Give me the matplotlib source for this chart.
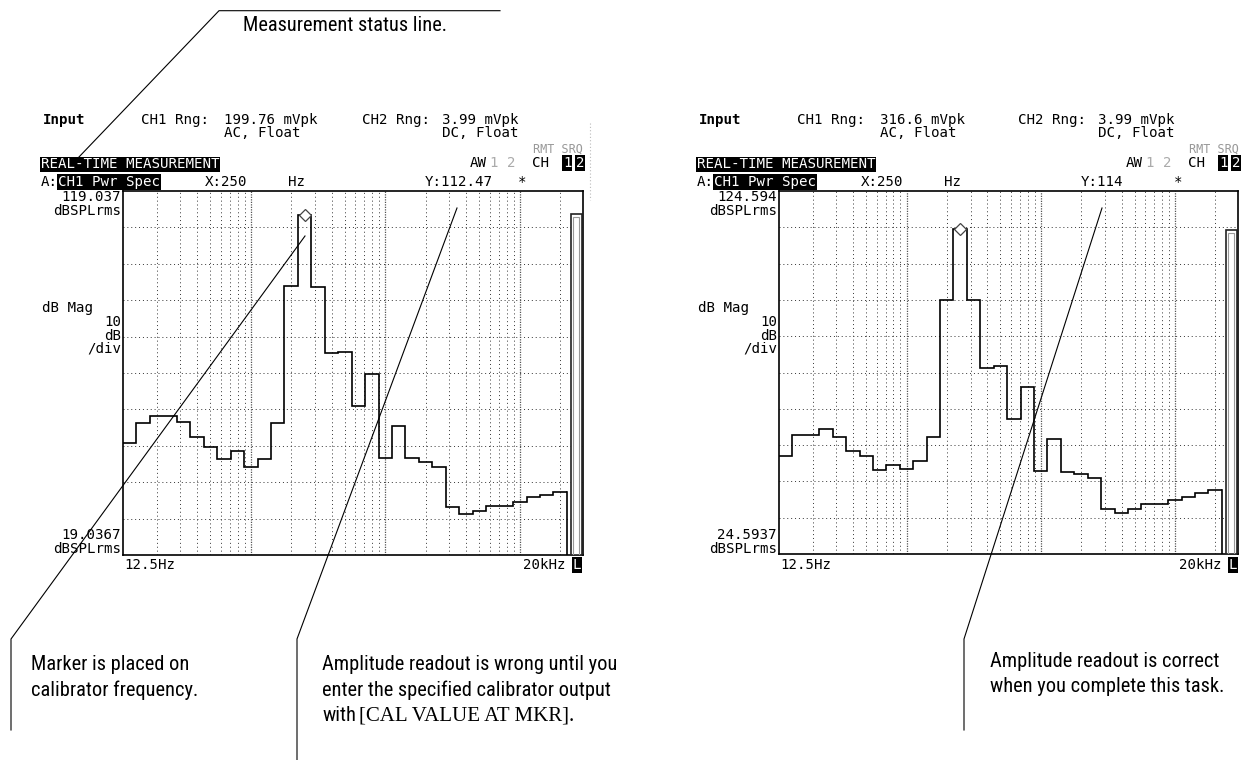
import matplotlib
matplotlib.use('Agg')
import matplotlib.pyplot as plt
import numpy as np
from matplotlib import font_manager

W, H = 1244, 760

# 1/3-octave bands shown on the analyzer, 12.5 Hz .. 20 kHz
bands = ['12.5', '16', '20', '25', '31.5', '40', '50', '63', '80', '100',
         '125', '160', '200', '250', '315', '400', '500', '630', '800', '1k',
         '1.25k', '1.6k', '2k', '2.5k', '3.15k', '4k', '5k', '6.3k', '8k',
         '10k', '12.5k', '16k', '20k']

# band levels (dBSPLrms)
spec_before = [49.8, 55.3, 57.3, 57.3, 55.5, 51.4, 48.7, 45.4, 47.6, 43.3,
               45.4, 55.3, 92.9, 112.47, 92.7, 74.5, 74.7, 59.9, 68.7, 45.8,
               54.5, 45.8, 44.7, 43.3, 32.2, 30.3, 31.0, 32.5, 32.5, 33.7,
               35.1, 35.5, 36.3]
spec_after = [51.6, 57.3, 57.3, 59.1, 56.7, 53.0, 51.6, 47.7, 49.0, 47.9,
              50.3, 56.9, 94.5, 114.0, 94.5, 75.9, 76.3, 61.8, 70.5, 47.5,
              56.3, 47.3, 46.6, 45.4, 36.9, 36.0, 36.9, 38.5, 38.5, 39.5,
              40.4, 41.3, 42.2]
overall = [112.6, 113.9]          # the "L" bar at the right edge
y_top = [119.037, 124.594]
y_bot = [19.0367, 24.5937]
ch1_rng = ['199.76 mVpk', '316.6 mVpk']
y_read = ['Y:112.47', 'Y:114']
marker_band = 13                  # 250 Hz

grid_freqs = [k * 10 ** n for n in (1, 2, 3, 4) for k in range(1, 10)
              if 20 <= k * 10 ** n <= 20000]

# fonts
avail = {f.name for f in font_manager.fontManager.ttflist}
narrow = None
for name in ['Liberation Sans Narrow', 'Roboto Condensed', 'Open Sans Condensed',
             'Noto Sans Condensed', 'DejaVu Sans Condensed']:
    if name in avail:
        narrow = dict(family=name)
        break
if narrow is None:
    for f in font_manager.fontManager.ttflist:
        if f.stretch in ('condensed', 'semi-condensed') and f.style == 'normal':
            narrow = dict(family=f.name, stretch=f.stretch)
            break
NSIZE = 14.7
if narrow is None:
    narrow = dict(family='Roboto')
    NSIZE = 12
MONO = dict(family='DejaVu Sans Mono', fontsize=10.2)

fig = plt.figure(figsize=(W / 100, H / 100), dpi=100)


def px_axes(x0, y0, x1, y1):
    return fig.add_axes([x0 / W, 1 - y1 / H, (x1 - x0) / W, (y1 - y0) / H])


def fx(f):
    # frequency -> band-index coordinate (band i spans i..i+1)
    return 10 * np.log10(f) - 10.5


boxes = [(123, 191, 583, 555), (779, 191, 1238, 554)]
spectra = [spec_before, spec_after]

for i, box in enumerate(boxes):
    ax = px_axes(*box)
    lo, hi = y_bot[i], y_top[i]
    ax.set_xlim(0, 34.2)
    ax.set_ylim(lo, hi)
    ax.set_xticks([])
    ax.set_yticks([])
    for s in ax.spines.values():
        s.set_linewidth(1.2)
    # graticule
    for yv in np.arange(lo + 10, hi - 1, 10):
        ax.axhline(yv, color='#333', lw=0.7, ls=(0, (1, 3)), zorder=1)
    for f in grid_freqs:
        if f in (100, 1000, 10000):
            ax.axvline(fx(f), color='#555', lw=0.9, ls=(0, (1, 1)), zorder=1)
        else:
            ax.axvline(fx(f), color='#333', lw=0.7, ls=(0, (1, 3)), zorder=1)
    vals = spectra[i]
    edges = np.arange(len(bands) + 1)
    ax.stairs(vals, edges, baseline=None, color='black', lw=1.2, zorder=3)
    ax.plot([edges[-1], edges[-1]], [vals[-1], lo], color='black', lw=1.2, zorder=3)
    # marker
    ax.plot(marker_band + 0.5, vals[marker_band], marker='D', ms=6, mfc='white',
            mec='#444', mew=0.9, zorder=4, clip_on=False)
    # overall level bar
    ax.bar(33.7, overall[i] - lo, bottom=lo, width=0.8, facecolor='white',
           edgecolor='#222', lw=1.2, zorder=3)
    ax.bar(33.7, overall[i] - lo - 0.8, bottom=lo, width=0.45, fill=False,
           edgecolor='#999', lw=0.8, zorder=3)

# overlay in pixel coordinates for screen text and callouts
ov = fig.add_axes([0, 0, 1, 1], zorder=5)
ov.set_xlim(0, W)
ov.set_ylim(H, 0)
ov.axis('off')
ov.patch.set_alpha(0)

inv = dict(facecolor='black', edgecolor='none', pad=0.6)
for i, dx in enumerate([0, 656]):
    t = lambda x, y, s, **kw: ov.text(x + dx, y, s, va='center', **{**MONO, **kw})
    t(43, 120, 'Input', fontweight='bold')
    t(141, 120, 'CH1 Rng:')
    t(224, 120, ch1_rng[i])
    t(224, 133, 'AC, Float')
    t(362, 120, 'CH2 Rng:')
    t(442, 120, '3.99 mVpk')
    t(442, 133, 'DC, Float')
    t(583, 149, 'RMT SRQ', ha='right', color='#999', fontsize=8.5)
    t(470, 163, 'AW')
    t(490, 163, '1 2', color='#aaa')
    t(532, 163, 'CH')
    t(563, 163, '1', color='white', bbox=inv)
    t(576, 163, '2', color='white', bbox=inv)
    t(41, 164.5, 'REAL-TIME MEASUREMENT', color='white', bbox=inv)
    t(41, 182, 'A:')
    t(58, 182, 'CH1 Pwr Spec', color='white', bbox=inv)
    t(205, 182, 'X:250')
    t(288, 182, 'Hz')
    t(425, 182, y_read[i])
    t(518, 182, '*')
    t(121, 197, f'{y_top[i]:g}', ha='right')
    t(121, 211, 'dBSPLrms', ha='right')
    t(42, 308, 'dB Mag')
    t(121, 322, '10', ha='right')
    t(121, 335.5, 'dB', ha='right')
    t(121, 349, '/div', ha='right')
    t(121, 535, f'{y_bot[i]:g}', ha='right')
    t(121, 549, 'dBSPLrms', ha='right')
    t(124, 565, '12.5Hz')
    t(565, 565, '20kHz', ha='right')
    t(573, 565, 'L', color='white', bbox=inv)

ov.plot([590, 590], [123, 200], color='#bbb', lw=0.8, ls=(0, (1, 2)))

# callouts
ln = dict(color='black', lw=0.8)
ov.plot([78, 219, 500], [158, 10.7, 10.7], **ln)
ov.plot([305, 11, 11], [236, 639, 730], **ln)
ov.plot([457, 297, 297], [208, 639, 760], **ln)
ov.plot([1102, 964, 964], [208, 639, 730], **ln)

nt = dict(fontsize=NSIZE, va='baseline', **narrow)
ov.text(243, 31, 'Measurement status line.', **nt)
ov.text(31, 670, 'Marker is placed on', **nt)
ov.text(31, 695.5, 'calibrator frequency.', **nt)
ov.text(322, 670, 'Amplitude readout is wrong until you', **nt)
ov.text(322, 695.5, 'enter the specified calibrator output', **nt)
ov.text(322, 721, 'with', **nt)
ov.text(359, 721, '[CAL VALUE AT MKR].', fontsize=15, va='baseline',
        family='Liberation Serif')
ov.text(990, 667, 'Amplitude readout is correct', **nt)
ov.text(990, 692.5, 'when you complete this task.', **nt)

fig.savefig('out.png', dpi=100)
